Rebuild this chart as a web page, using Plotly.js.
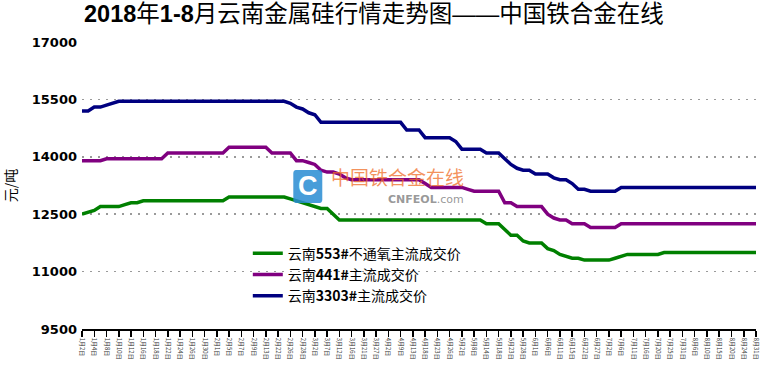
<!DOCTYPE html>
<html>
<head>
<meta charset="utf-8">
<script src="https://cdn.plot.ly/plotly-3.0.1.min.js"></script>
<style>
html,body{margin:0;padding:0;background:#fff;}
#chart{width:760px;height:370px;}
</style>
</head>
<body>
<div id="chart"></div>
<script>
// Trading dates (x categories)
const dates = [
  "1月2日","1月3日","1月4日","1月5日","1月8日","1月9日","1月10日","1月11日","1月12日","1月15日",
  "1月16日","1月17日","1月18日","1月19日","1月22日","1月23日","1月24日","1月25日","1月26日","1月29日",
  "1月30日","1月31日","2月1日","2月2日","2月5日","2月6日","2月7日","2月8日","2月9日","2月12日",
  "2月13日","2月14日","2月22日","2月23日","2月26日","2月27日","2月28日","3月1日","3月2日","3月5日",
  "3月7日","3月9日","3月12日","3月14日","3月16日","3月19日","3月21日","3月23日","3月27日","3月29日",
  "4月2日","4月4日","4月9日","4月11日","4月13日","4月16日","4月18日","4月20日","4月23日","4月25日",
  "4月26日","4月27日","5月2日","5月4日","5月8日","5月10日","5月14日","5月16日","5月18日","5月21日",
  "5月23日","5月25日","5月28日","5月30日","6月1日","6月4日","6月6日","6月8日","6月11日","6月13日",
  "6月15日","6月20日","6月22日","6月25日","6月27日","6月29日","7月2日","7月4日","7月6日","7月9日",
  "7月11日","7月13日","7月16日","7月18日","7月20日","7月23日","7月25日","7月27日","7月31日","8月2日",
  "8月6日","8月8日","8月10日","8月13日","8月15日","8月17日","8月20日","8月22日","8月24日","8月28日",
  "8月31日"
];

// 云南553#不通氧主流成交价
const price553 = [
  12500,12550,12600,12700,12700,12700,12700,12750,12800,12800,
  12850,12850,12850,12850,12850,12850,12850,12850,12850,12850,
  12850,12850,12850,12850,12950,12950,12950,12950,12950,12950,
  12950,12950,12950,12950,12900,12850,12800,12750,12700,12650,
  12650,12500,12350,12350,12350,12350,12350,12350,12350,12350,
  12350,12350,12350,12350,12350,12350,12350,12350,12350,12350,
  12350,12350,12350,12350,12350,12350,12250,12250,12250,12100,
  11950,11950,11800,11750,11750,11750,11600,11550,11450,11400,
  11350,11350,11300,11300,11300,11300,11300,11350,11400,11450,
  11450,11450,11450,11450,11450,11500,11500,11500,11500,11500,
  11500,11500,11500,11500,11500,11500,11500,11500,11500,11500,
  11500
];

// 云南441#主流成交价
const price441 = [
  13900,13900,13900,13900,13950,13950,13950,13950,13950,13950,
  13950,13950,13950,13950,14100,14100,14100,14100,14100,14100,
  14100,14100,14100,14100,14250,14250,14250,14250,14250,14250,
  14250,14100,14100,14100,14100,13900,13900,13850,13800,13650,
  13600,13600,13550,13450,13400,13400,13400,13400,13400,13400,
  13400,13400,13400,13400,13400,13400,13300,13200,13200,13200,
  13200,13200,13200,13150,13100,13100,13100,13100,13100,12800,
  12800,12700,12700,12700,12700,12700,12500,12400,12350,12350,
  12250,12250,12250,12150,12150,12150,12150,12150,12250,12250,
  12250,12250,12250,12250,12250,12250,12250,12250,12250,12250,
  12250,12250,12250,12250,12250,12250,12250,12250,12250,12250,
  12250
];

// 云南3303#主流成交价
const price3303 = [
  15200,15200,15300,15300,15350,15400,15450,15450,15450,15450,
  15450,15450,15450,15450,15450,15450,15450,15450,15450,15450,
  15450,15450,15450,15450,15450,15450,15450,15450,15450,15450,
  15450,15450,15450,15450,15400,15300,15250,15150,15100,14900,
  14900,14900,14900,14900,14900,14900,14900,14900,14900,14900,
  14900,14900,14900,14700,14700,14700,14500,14500,14500,14500,
  14500,14400,14200,14200,14200,14200,14100,14100,14100,13950,
  13800,13700,13650,13650,13550,13550,13550,13450,13400,13400,
  13300,13150,13150,13100,13100,13100,13100,13100,13200,13200,
  13200,13200,13200,13200,13200,13200,13200,13200,13200,13200,
  13200,13200,13200,13200,13200,13200,13200,13200,13200,13200,
  13200
];

const seriesNames = ["云南<b>553#</b>不通氧主流成交价","云南<b>441#</b>主流成交价","云南<b>3303#</b>主流成交价"];
const seriesColors = ["#008000","#800080","#000080"];
const seriesValues = [price553, price441, price3303];

const traces = seriesValues.map((vals, k) => ({
  type: "scatter",
  mode: "lines",
  x: dates,
  y: vals,
  name: seriesNames[k],
  line: {color: seriesColors[k], width: 3.5},
  hoverinfo: "x+y+name"
}));

const layout = {
  width: 760,
  height: 370,
  margin: {l: 82, r: 4, t: 42, b: 41},
  paper_bgcolor: "#ffffff",
  plot_bgcolor: "#ffffff",
  font: {family: "DejaVu Sans, Noto Sans CJK SC, sans-serif", color: "#000"},
  title: {
    text: "<b>2018</b>年<b>1-8</b>月云南金属硅行情走势图——中国铁合金在线",
    font: {family: "Liberation Sans, Noto Sans CJK SC, sans-serif", size: 23.5, color: "#000"},
    xref: "container", x: 0.492, xanchor: "center",
    yref: "container", y: 0.962, yanchor: "middle"
  },
  showlegend: true,
  legend: {
    x: 0.246, xanchor: "left",
    y: 0.318, yanchor: "top",
    bgcolor: "rgba(0,0,0,0)",
    font: {family: "Noto Sans CJK SC, DejaVu Sans, sans-serif", size: 14, color: "#000"},
    tracegroupgap: 0,
    itemwidth: 30
  },
  xaxis: {
    type: "category",
    range: [0, dates.length - 1],
    tickmode: "linear",
    tick0: 0,
    dtick: 2,
    showgrid: false,
    zeroline: false,
    showline: true,
    linecolor: "#000",
    linewidth: 1.5,
    ticks: "outside",
    ticklen: 6,
    tickwidth: 1.5,
    tickcolor: "#000",
    tickangle: 90,
    tickfont: {family: "Noto Sans CJK SC, sans-serif", size: 6, color: "#333"},
    fixedrange: true
  },
  yaxis: {
    range: [9500, 17000],
    tickmode: "linear",
    tick0: 9500,
    dtick: 1500,
    tickformat: "d",
    showgrid: true,
    gridcolor: "#9a9a9a",
    gridwidth: 1.5,
    griddash: "2px,6px",
    zeroline: false,
    showline: false,
    ticks: "",
    ticklabelstandoff: 4,
    tickfont: {family: "DejaVu Sans, sans-serif", size: 13, color: "#000", weight: "bold"},
    title: {
      text: "元/吨",
      font: {family: "Noto Sans CJK SC, sans-serif", size: 14, color: "#000"},
      standoff: 14
    },
    fixedrange: true
  },
  shapes: [
    {
      type: "path",
      xref: "paper", yref: "paper",
      path: "M 0.3175 0.439 L 0.3525 0.439 Q 0.3565 0.439 0.3565 0.452 L 0.3565 0.541 Q 0.3565 0.554 0.3525 0.554 L 0.3175 0.554 Q 0.3135 0.554 0.3135 0.541 L 0.3135 0.452 Q 0.3135 0.439 0.3175 0.439 Z",
      fillcolor: "rgba(40,140,210,0.85)",
      line: {width: 0},
      layer: "above"
    }
  ],
  annotations: [
    {
      text: "<b>C</b>", xref: "paper", yref: "paper",
      x: 0.335, y: 0.497, xanchor: "center", yanchor: "middle",
      showarrow: false,
      font: {family: "Liberation Sans, sans-serif", size: 27, color: "#ffffff"}
    },
    {
      text: "中国铁合金在线",
      xref: "paper", yref: "paper",
      x: 0.569, y: 0.533, xanchor: "right", yanchor: "middle",
      showarrow: false,
      font: {family: "Noto Sans CJK SC, sans-serif", size: 19, color: "rgba(240,110,40,0.75)"}
    },
    {
      text: "<b>CNFEOL</b>.com",
      xref: "paper", yref: "paper",
      x: 0.569, y: 0.45, xanchor: "right", yanchor: "middle",
      showarrow: false,
      font: {family: "DejaVu Sans, sans-serif", size: 11, color: "rgba(140,140,140,0.9)"}
    }
  ]
};

Plotly.newPlot("chart", traces, layout, {displayModeBar: false, staticPlot: true});
</script>
</body>
</html>
